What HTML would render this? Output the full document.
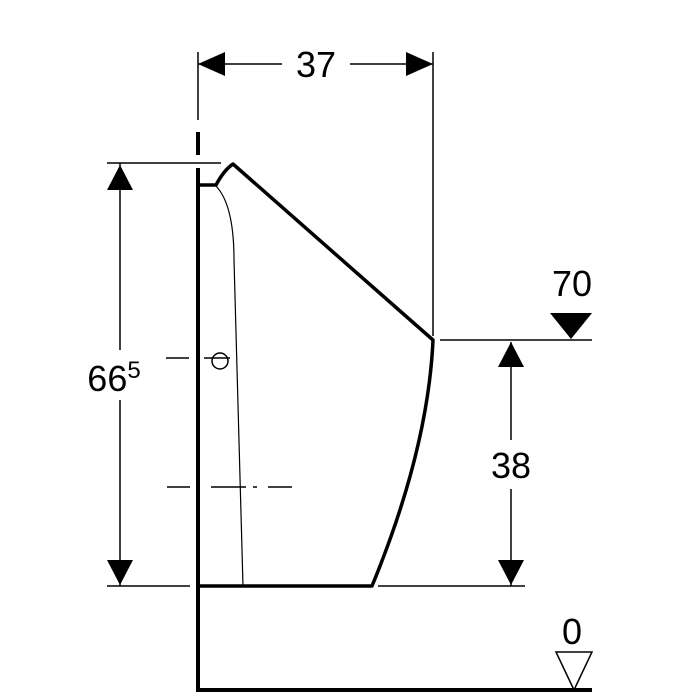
<!DOCTYPE html>
<html><head><style>html,body{margin:0;padding:0;background:#fff}svg{display:block}</style></head>
<body>
<svg width="700" height="700" viewBox="0 0 700 700" xmlns="http://www.w3.org/2000/svg" font-family="Liberation Sans, sans-serif">
<g stroke="#000" fill="none">
<line x1="198" y1="132" x2="198" y2="155" stroke-width="4"/>
<polyline points="198,168 198,690 592,690" stroke-width="4"/>
<path d="M198,185 L216,185 Q224,170 233,164 L433,340 Q428,450 372,586 L198,586" stroke-width="3.5" stroke-linejoin="round"/>
<path d="M216,186 Q234,205 234,260 L243,586" stroke-width="1.2"/>
<line x1="198" y1="52" x2="198" y2="120" stroke-width="1.5"/>
<line x1="433" y1="52" x2="433" y2="336" stroke-width="1.5"/>
<line x1="198" y1="64" x2="282" y2="64" stroke-width="1.5"/>
<line x1="350" y1="64" x2="433" y2="64" stroke-width="1.5"/>
<line x1="107" y1="163" x2="221" y2="163" stroke-width="1.5"/>
<line x1="107" y1="586" x2="190" y2="586" stroke-width="1.5"/>
<line x1="378" y1="586" x2="525" y2="586" stroke-width="1.5"/>
<line x1="440" y1="340" x2="592" y2="340" stroke-width="1.5"/>
<line x1="120" y1="163" x2="120" y2="350" stroke-width="1.5"/>
<line x1="120" y1="400" x2="120" y2="586" stroke-width="1.5"/>
<line x1="511" y1="342" x2="511" y2="440" stroke-width="1.5"/>
<line x1="511" y1="489" x2="511" y2="586" stroke-width="1.5"/>
<line x1="166" y1="358" x2="189" y2="358" stroke-width="1.5"/>
<line x1="204" y1="358" x2="230" y2="358" stroke-width="1.5"/>
<circle cx="220" cy="361" r="8" stroke-width="1.5"/>
<line x1="167" y1="487" x2="190" y2="487" stroke-width="1.5"/>
<line x1="211" y1="487" x2="246" y2="487" stroke-width="1.5"/>
<line x1="253" y1="487" x2="257" y2="487" stroke-width="1.5"/>
<line x1="268" y1="487" x2="292" y2="487" stroke-width="1.5"/>
<polygon points="556,652 592,652 574,690" stroke-width="1.5"/>
</g>
<g fill="#000">
<polygon points="198,64 225,52 225,76"/>
<polygon points="433,64 406,52 406,76"/>
<polygon points="120,165 107,190 133,190"/>
<polygon points="120,585 107,560 133,560"/>
<polygon points="511,342 498,367 524,367"/>
<polygon points="511,585 498,560 524,560"/>
<polygon points="550,313 592,313 571,339"/>
</g>
<g font-size="36" text-anchor="middle" fill="#000">
<text x="316" y="77">37</text>
<text x="572" y="296">70</text>
<text x="511" y="478">38</text>
<text x="572" y="644">0</text>
<text x="114" y="391">66<tspan font-size="24" dy="-13">5</tspan></text>
</g>
</svg>
</body></html>
